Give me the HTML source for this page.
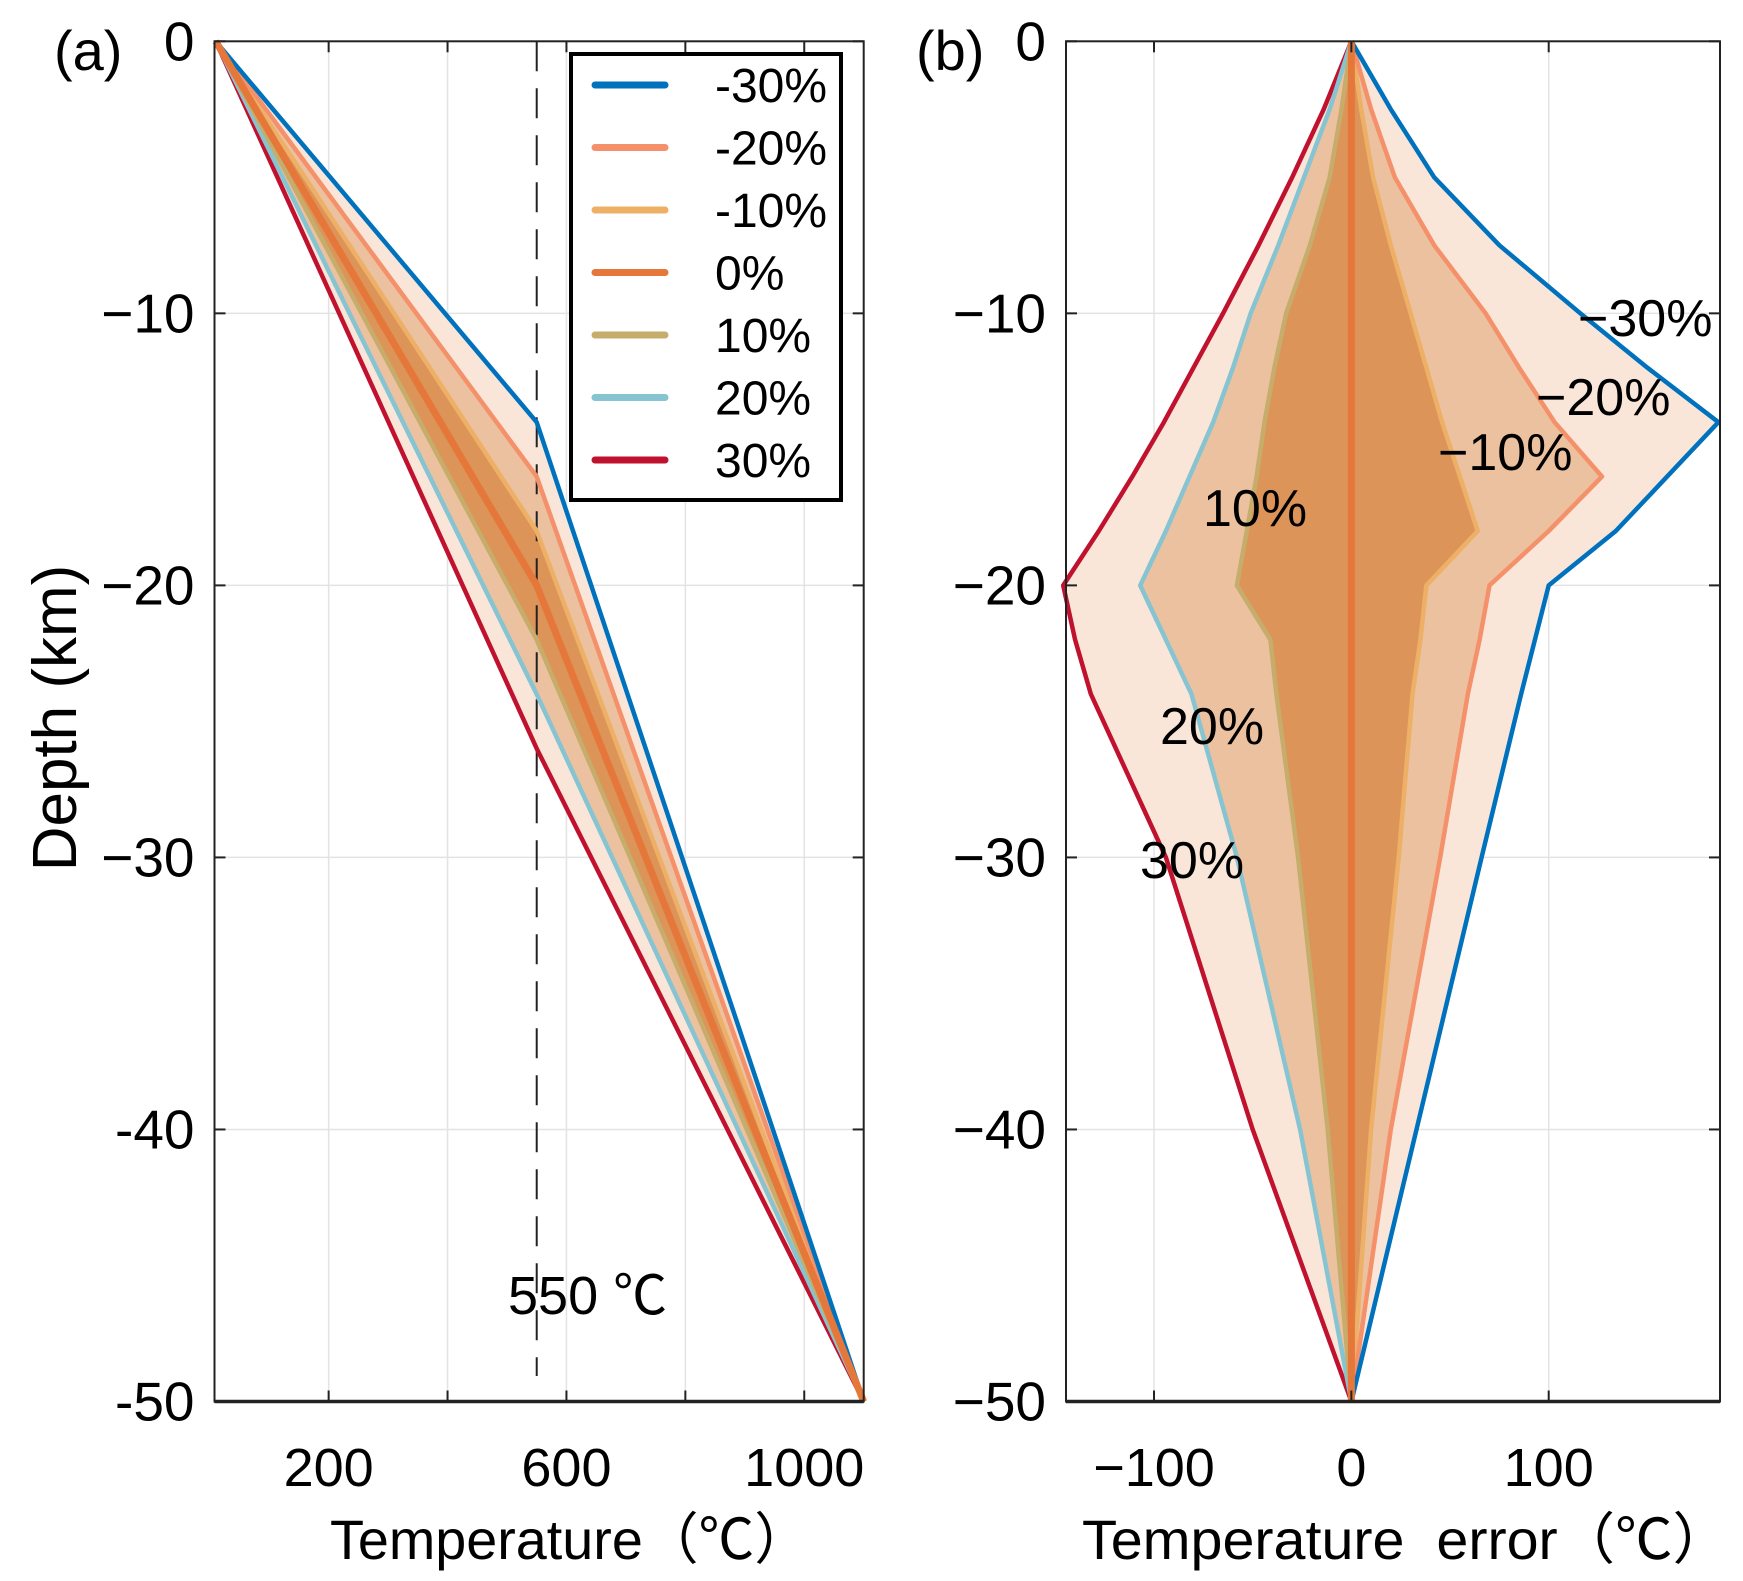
<!DOCTYPE html>
<html><head><meta charset="utf-8">
<style>
html,body{margin:0;padding:0;background:#fff;}
svg{display:block;}
text{font-family:"Liberation Sans","Noto Sans CJK SC",sans-serif;fill:#000;}
</style></head>
<body>
<svg id="chart" width="1743" height="1581" viewBox="0 0 1743 1581" xmlns="http://www.w3.org/2000/svg"></svg>
<script>
// ---- data ----
const seriesLabels = ["-30%","-20%","-10%","0%","10%","20%","30%"];
const seriesColors = ["#0072BD","#F4916A","#EDB066","#E6773A","#C6AD6B","#86C4D2","#C0122E"];
// panel (a): temperature profile points
const surfaceTemp = 10;
const kinkTemp = 550;
const bottomTemp = 1100;
const kinkDepths = [-14,-16,-18,-20,-22,-24,-26];
// panel (b): temperature error profiles
const errDepths = [0,-2.5,-5,-7.5,-10,-12,-14,-16,-18,-20,-22,-24,-30,-40,-50];
const errM30 = [0,20,42,75,116,150,186,160,134,100,93,86,66,33,0];
const errM20 = [0,10,22,42,68,85,103,127,100,70,65,59,45,20,0];
const errM10 = [0,5,11,20,30,38,46,55,64,38,35,31,24,10,0];
const err0   = [0,0,0,0,0,0,0,0,0,0,0,0,0,0,0];
const errP10 = [0,-5,-11,-21,-33,-39,-44,-48,-53,-58,-41,-38,-27,-12,0];
const errP20 = [0,-11,-24,-37,-51,-60,-70,-82,-94,-107,-94,-81,-58,-26,0];
const errP30 = [0,-14,-30,-47,-65,-80,-95,-111,-128,-146,-140,-132,-94,-50,0];
const errSeries = [errM30,errM20,errM10,err0,errP10,errP20,errP30];
const xTicksA = [200,400,600,800,1000];
const xTickLabelsA = ["200","","600","","1000"];
const xTicksB = [-100,0,100];
const xTickLabelsB = ["\u2212100","0","100"];
const yTicks = [0,-10,-20,-30,-40,-50];
const yTickLabelsA = ["0","\u221210","\u221220","\u221230","-40","-50"];
const yTickLabelsB = ["0","\u221210","\u221220","\u221230","\u221240","\u221250"];

const NS="http://www.w3.org/2000/svg";
const svg=document.getElementById('chart');
function mk(tag,attrs,parent){const e=document.createElementNS(NS,tag);for(const k in attrs)e.setAttribute(k,attrs[k]);(parent||svg).appendChild(e);return e;}

const Y0=41.3, Y1=1401.5;
function yScale(d){return Y0+(0-d)/50*(Y1-Y0);}
const A={l:214.5,r:863.7,xmin:8,xmax:1100};
const B={l:1066,r:1720,xmin:-144.6,xmax:186.8};
function xs(P,v){return P.l+(v-P.xmin)/(P.xmax-P.xmin)*(P.r-P.l);}

const bandColors=["#F9E6D8","#ECC19F","#DC9458"];

function drawPanel(P,seriesPts,name,xTicks){
  const g=mk('g',{});
  
  
  xTicks.forEach(t=>{const l=mk('line',{x1:xs(P,t),x2:xs(P,t),y1:Y0,y2:Y1,stroke:'#e3e3e3','stroke-width':1.5},g);
    });
  yTicks.forEach(t=>{const l=mk('line',{x1:P.l,x2:P.r,y1:yScale(t),y2:yScale(t),stroke:'#e3e3e3','stroke-width':1.5},g);
    });
  for(let i=0;i<3;i++){
    const a=seriesPts[i], b=seriesPts[6-i].slice().reverse();
    const pts=a.concat(b).map(p=>xs(P,p[0]).toFixed(1)+','+yScale(p[1]).toFixed(1)).join(' ');
    const pg=mk('polygon',{points:pts,fill:bandColors[i],stroke:'none'},g);
    
    
  }
  return g;
}
function drawLines(P,seriesPts,g){
  const order=[6,5,4,2,1,0,3];
  order.forEach(i=>{
    const pts=seriesPts[i].map(p=>xs(P,p[0]).toFixed(1)+','+yScale(p[1]).toFixed(1)).join(' ');
    const pl=mk('polyline',{points:pts,fill:'none',stroke:seriesColors[i],'stroke-width':i===3?7:4.5,'stroke-linejoin':'round'},g);
    
    
  });
}
function drawAxes(P,g,xTicks,xLabels,yLabels,xTitle,titleX,titleLen){
  mk('rect',{x:P.l,y:Y0,width:P.r-P.l,height:Y1-Y0,fill:'none',stroke:'#222','stroke-width':2},g);
  mk('line',{x1:P.l,x2:P.r,y1:Y1,y2:Y1,stroke:'#222','stroke-width':3.5},g);
  xTicks.forEach((t,i)=>{
    const x=xs(P,t);
    mk('line',{x1:x,x2:x,y1:Y1,y2:Y1-11,stroke:'#222','stroke-width':2},g);
    mk('line',{x1:x,x2:x,y1:Y0,y2:Y0+11,stroke:'#222','stroke-width':2},g);
    if(xLabels[i]){const tx=mk('text',{x:x,y:1486,'font-size':54,'text-anchor':'middle'},g);tx.textContent=xLabels[i];
      }
  });
  yTicks.forEach((t,i)=>{
    const y=yScale(t);
    mk('line',{x1:P.l,x2:P.l+11,y1:y,y2:y,stroke:'#222','stroke-width':2},g);
    mk('line',{x1:P.r,x2:P.r-11,y1:y,y2:y,stroke:'#222','stroke-width':2},g);
    const tx=mk('text',{x:P.l-20,y:y+19,'font-size':55,'text-anchor':'end'},g);tx.textContent=yLabels[i];
    
  });
  const tt=mk('text',{x:titleX,y:1559,'font-size':56,textLength:titleLen,lengthAdjust:'spacingAndGlyphs'},g);tt.textContent=xTitle;
  
}

const ptsA=kinkDepths.map(k=>[[surfaceTemp,0],[kinkTemp,k],[bottomTemp,-50]]);
const gA=drawPanel(A,ptsA,'panel-a',xTicksA);
const dl=mk('line',{x1:xs(A,kinkTemp),x2:xs(A,kinkTemp),y1:Y0,y2:1376,stroke:'#222','stroke-width':2,'stroke-dasharray':'30,17'},gA);

drawLines(A,ptsA,gA);
drawAxes(A,gA,xTicksA,xTickLabelsA,yTickLabelsA,"Temperature\uFF08\u2103\uFF09",330,480);

const ptsB=errSeries.map(s=>s.map((v,j)=>[v,errDepths[j]]));
const gB=drawPanel(B,ptsB,'panel-b',xTicksB);
drawLines(B,ptsB,gB);
drawAxes(B,gB,xTicksB,xTickLabelsB,yTickLabelsB,"Temperature\u00A0\u00A0error\uFF08\u2103\uFF09",1082,648);

function txt(s,x,y,size,name,anchor){const t=mk('text',{x:x,y:y,'font-size':size,'text-anchor':anchor||'start'});t.textContent=s;
  return t;}
txt("550 \u2103",508,1314,54,'label-550');
txt("\u221230%",1578,336,52,'label-minus30');
txt("\u221220%",1536,415,52,'label-minus20');
txt("\u221210%",1438,470,52,'label-minus10');
txt("10%",1203,526,52,'label-10');
txt("20%",1160,744,52,'label-20');
txt("30%",1140,878,52,'label-30');
txt("(a)",54,70,56,'panel-a-tag');
txt("(b)",916,70,56,'panel-b-tag');
const yt=mk('text',{x:0,y:0,'font-size':62,'text-anchor':'middle',transform:'translate(76,718) rotate(-90)'});
yt.textContent="Depth (km)";


const lg=mk('g',{});


mk('rect',{x:571,y:54,width:270,height:446,fill:'#fff',stroke:'#000','stroke-width':4},lg);
seriesLabels.forEach((s,i)=>{
  const y=85+i*62.5;
  const l=mk('line',{x1:595,x2:665,y1:y,y2:y,stroke:seriesColors[i],'stroke-width':7,'stroke-linecap':'round'},lg);
  
  const t=mk('text',{x:715,y:y+17,'font-size':48},lg);t.textContent=s;
  
});
</script>
</body></html>
